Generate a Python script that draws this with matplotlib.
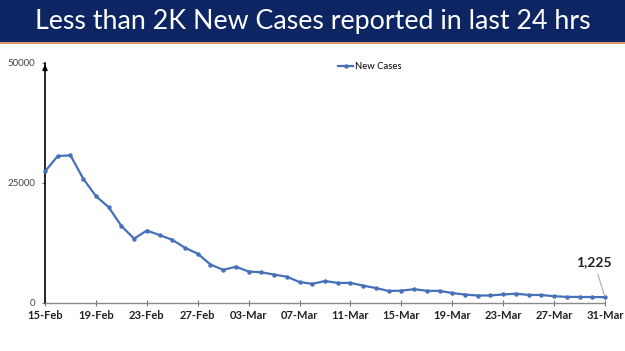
import matplotlib
matplotlib.use("Agg")
import matplotlib.pyplot as plt
from matplotlib.patches import Rectangle

dates = ["15-Feb", "16-Feb", "17-Feb", "18-Feb", "19-Feb", "20-Feb", "21-Feb", "22-Feb",
         "23-Feb", "24-Feb", "25-Feb", "26-Feb", "27-Feb", "28-Feb",
         "01-Mar", "02-Mar", "03-Mar", "04-Mar", "05-Mar", "06-Mar", "07-Mar", "08-Mar",
         "09-Mar", "10-Mar", "11-Mar", "12-Mar", "13-Mar", "14-Mar", "15-Mar", "16-Mar",
         "17-Mar", "18-Mar", "19-Mar", "20-Mar", "21-Mar", "22-Mar", "23-Mar", "24-Mar",
         "25-Mar", "26-Mar", "27-Mar", "28-Mar", "29-Mar", "30-Mar", "31-Mar"]
new_cases = [27409, 30615, 30757, 25920, 22270, 19968, 16051, 13405,
             15102, 14148, 13166, 11499, 10273, 8013,
             6915, 7554, 6561, 6396, 5921, 5476, 4362, 3993,
             4575, 4184, 4194, 3614, 3116, 2503, 2568, 2876,
             2539, 2528, 2075, 1761, 1549, 1581, 1778, 1938,
             1685, 1660, 1421, 1270, 1259, 1233, 1225]
title = "Less than 2K New Cases reported in last 24 hrs"
series_name = "New Cases"
y_ticks = [0, 25000, 50000]

plt.rcParams['font.family'] = ['Lato', 'DejaVu Sans']

W, H = 625, 351
fig = plt.figure(figsize=(W / 100, H / 100), dpi=100)
fig.patch.set_facecolor("white")

# Title banner
fig.patches.append(Rectangle((0, 1 - 42 / H), 1, 42 / H, transform=fig.transFigure,
                             facecolor="#0d2563", edgecolor="none", zorder=0))
fig.patches.append(Rectangle((0, 1 - 44 / H), 1, 2 / H, transform=fig.transFigure,
                             facecolor="#d99a70", edgecolor="none", zorder=0))
fig.text(0.5, 1 - 21 / H, title, color="white", fontsize=19.3, ha="center", va="center")

ax = fig.add_axes([45 / W, (H - 303) / H, 560 / W, 240 / H])
x = list(range(len(dates)))
ax.plot(x, new_cases, color="#4670b8", lw=1.6, marker="o", ms=2.2, label=series_name,
        clip_on=False, zorder=3)
ax.set_xlim(0, len(dates) - 1)
ax.set_ylim(0, 50000)

tick_idx = list(range(0, len(dates), 4))
ax.set_xticks(tick_idx)
ax.set_xticklabels([dates[i] for i in tick_idx], fontsize=8, fontweight="bold", color="#222222")
ax.set_yticks(y_ticks)
ax.set_yticklabels([str(v) for v in y_ticks], fontsize=7, color="#444444")
ax.tick_params(axis="x", direction="inout", length=4, color="#777777", pad=3)
ax.tick_params(axis="y", direction="out", length=2, color="#777777", pad=5)

for s in ["top", "right"]:
    ax.spines[s].set_visible(False)
ax.spines["bottom"].set_color("#8a8a8a")
ax.spines["bottom"].set_linewidth(1.0)
ax.spines["left"].set_color("black")
ax.spines["left"].set_linewidth(1.2)
ax.annotate("", xy=(0, 1.005), xytext=(0, 0.96), xycoords="axes fraction",
            arrowprops=dict(arrowstyle="-|>", color="black", lw=1.2, mutation_scale=7))

ax.legend(loc="upper center", bbox_to_anchor=(0.58, 1.04), frameon=False, fontsize=6.8,
          handlelength=1.6, handletextpad=0.2)

ax.annotate(f"{new_cases[-1]:,}", xy=(len(dates) - 1, new_cases[-1]),
            xytext=(len(dates) - 1.85, 7200), fontsize=10, fontweight="bold", color="#222222",
            ha="center", va="bottom",
            arrowprops=dict(arrowstyle="-", color="#aaaaaa", lw=0.8, shrinkA=2, shrinkB=1))

fig.savefig("out.png", dpi=100)
